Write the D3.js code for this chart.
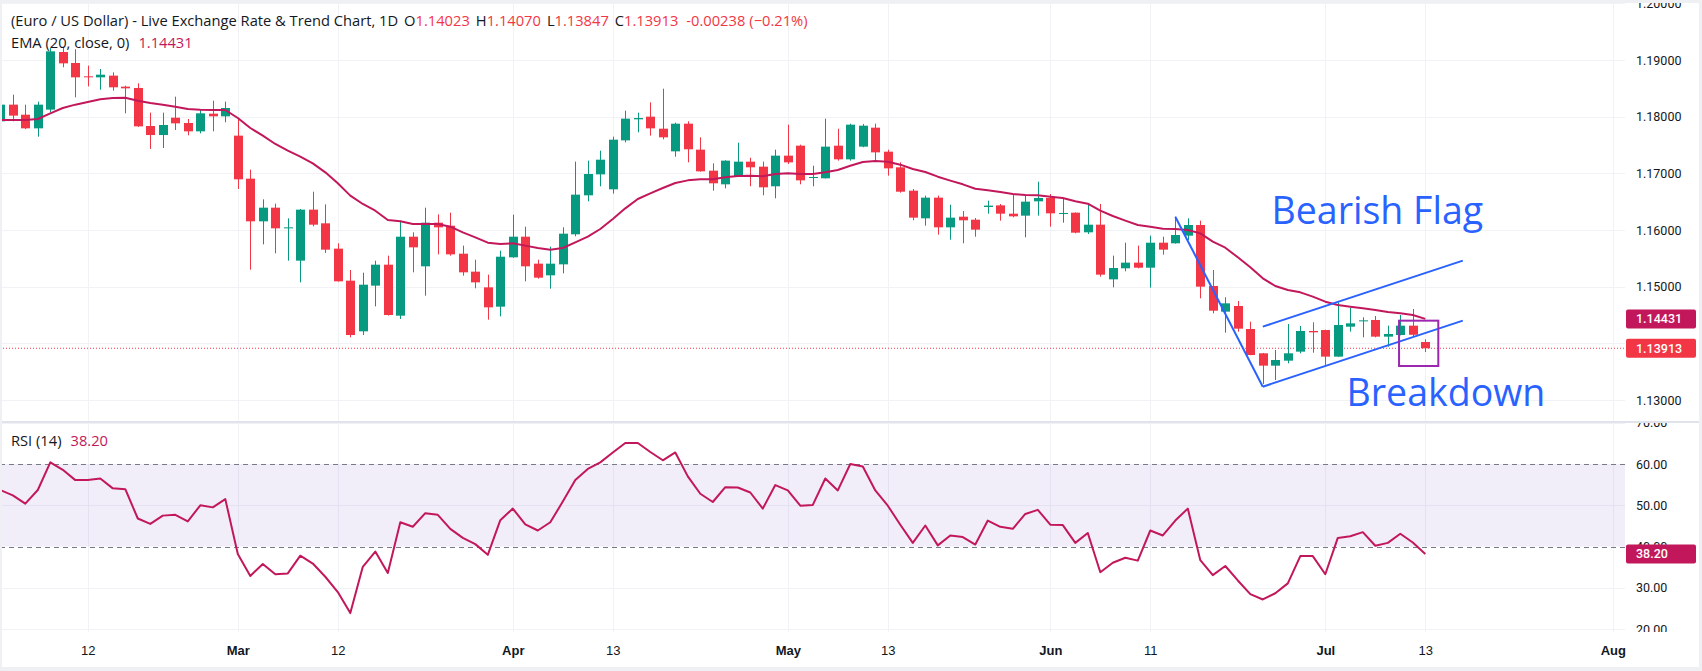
<!DOCTYPE html>
<html>
<head>
<meta charset="utf-8">
<script src="https://d3js.org/d3.v7.min.js"></script>
<style>
html, body { margin: 0; padding: 0; background: #fff; }
svg { display: block; font-family: Roboto, "Noto Sans", sans-serif; }
</style>
</head>
<body>
<svg id="chart" width="1702" height="671"></svg>
<script>
'use strict';

// trading days shown (2026, weekdays)
var days = [
  '2026-02-03','2026-02-04','2026-02-05','2026-02-06','2026-02-09','2026-02-10','2026-02-11','2026-02-12','2026-02-13',
  '2026-02-16','2026-02-17','2026-02-18','2026-02-19','2026-02-20','2026-02-23','2026-02-24','2026-02-25','2026-02-26','2026-02-27',
  '2026-03-02','2026-03-03','2026-03-04','2026-03-05','2026-03-06','2026-03-09','2026-03-10','2026-03-11','2026-03-12','2026-03-13',
  '2026-03-16','2026-03-17','2026-03-18','2026-03-19','2026-03-20','2026-03-23','2026-03-24','2026-03-25','2026-03-26','2026-03-27',
  '2026-03-30','2026-03-31','2026-04-01','2026-04-02','2026-04-03','2026-04-06','2026-04-07','2026-04-08','2026-04-09','2026-04-10',
  '2026-04-13','2026-04-14','2026-04-15','2026-04-16','2026-04-17','2026-04-20','2026-04-21','2026-04-22','2026-04-23','2026-04-24',
  '2026-04-27','2026-04-28','2026-04-29','2026-04-30','2026-05-01','2026-05-04','2026-05-05','2026-05-06','2026-05-07','2026-05-08',
  '2026-05-11','2026-05-12','2026-05-13','2026-05-14','2026-05-15','2026-05-18','2026-05-19','2026-05-20','2026-05-21','2026-05-22',
  '2026-05-25','2026-05-26','2026-05-27','2026-05-28','2026-05-29','2026-06-01','2026-06-02','2026-06-03','2026-06-04','2026-06-05',
  '2026-06-08','2026-06-09','2026-06-10','2026-06-11','2026-06-12','2026-06-15','2026-06-16','2026-06-17','2026-06-18','2026-06-19',
  '2026-06-22','2026-06-23','2026-06-24','2026-06-25','2026-06-26','2026-06-29','2026-06-30','2026-07-01','2026-07-02','2026-07-03',
  '2026-07-06','2026-07-07','2026-07-08','2026-07-09','2026-07-10','2026-07-13'
];

var opens = [
  1.17918,1.18212,1.18035,1.17794,1.18124,1.19141,1.18947,1.18712,1.18694,1.18724,1.18530,1.18506,1.17835,1.17676,1.17982,1.17888,1.17741,1.18053,1.18006,
  1.17665,1.16906,1.16153,1.16394,1.16040,1.15459,1.16359,1.16118,1.15671,1.15106,1.14212,1.15018,1.15388,1.14488,1.15882,1.15359,1.16129,1.16076,1.15582,1.15265,1.14988,1.14647,
  1.15518,1.15882,1.15406,1.15200,1.15394,1.15924,1.16612,1.16982,1.16718,1.17582,1.17953,1.18000,1.17788,1.17388,1.17876,1.17418,1.17047,1.16806,1.16947,1.17206,1.17118,1.16771,
  1.17312,1.17488,1.16924,1.16912,1.17488,1.17247,1.17471,1.17806,1.17382,1.17106,1.16694,1.16206,1.16571,1.16047,1.16235,1.16182,1.16406,1.16435,1.16288,1.16253,1.16506,
  1.16565,1.16282,1.16306,1.15959,1.16094,1.15129,1.15324,1.15424,1.15335,1.15776,1.15765,1.15900,1.16088,1.15012,1.14559,1.14659,1.14253,1.13824,1.13606,1.13694,1.13853,1.14218,
  1.14235,1.13765,1.14294,1.14388,1.14412,1.14118,1.14147,1.14312,1.14023
];
var highs = [
  1.18250,1.18388,1.18212,1.18265,1.19210,1.19224,1.19190,1.18900,1.18841,1.18782,1.18547,1.18588,1.18071,1.18071,1.18353,1.17959,1.18130,1.18282,1.18265,
  1.17976,1.17065,1.16541,1.16465,1.16206,1.16370,1.16676,1.16453,1.15765,1.15294,1.15247,1.15459,1.15547,1.16165,1.15959,1.16394,1.16276,1.16306,1.15724,1.15476,1.15212,1.15635,
  1.16271,1.16059,1.15476,1.15706,1.16047,1.17206,1.17224,1.17400,1.17647,1.18106,1.18071,1.18253,1.18494,1.17894,1.17918,1.17635,1.17176,1.17230,1.17541,1.17276,1.17206,1.17418,
  1.17859,1.17506,1.17135,1.17965,1.17788,1.17876,1.17871,1.17876,1.17418,1.17194,1.16724,1.16606,1.16606,1.16447,1.16335,1.16212,1.16518,1.16459,1.16618,1.16606,1.16853,
  1.16635,1.16559,1.16310,1.16459,1.16459,1.15547,1.15776,1.15724,1.15900,1.15882,1.16235,1.16206,1.16165,1.15294,1.14812,1.14747,1.14382,1.13830,1.13882,1.14341,1.14306,1.14371,
  1.14240,1.14724,1.14630,1.14459,1.14482,1.14312,1.14500,1.14606,1.14070
];
var lows = [
  1.17850,1.17918,1.17780,1.17647,1.18076,1.18871,1.18341,1.18535,1.18476,1.18459,1.18059,1.17820,1.17430,1.17447,1.17765,1.17671,1.17706,1.17741,1.17900,
  1.16724,1.15300,1.15747,1.15588,1.15459,1.15076,1.16065,1.15594,1.15090,1.14106,1.14147,1.14653,1.14490,1.14430,1.15253,1.14841,1.15570,1.15547,1.15194,1.14971,1.14418,1.14476,
  1.15510,1.15094,1.15141,1.14965,1.15235,1.15888,1.16506,1.16771,1.16641,1.17547,1.17724,1.17665,1.17600,1.17294,1.17194,1.17030,1.16694,1.16735,1.16940,1.16771,1.16612,1.16559,
  1.17165,1.16806,1.16771,1.16910,1.17224,1.17224,1.17460,1.17235,1.16959,1.16659,1.16171,1.16076,1.15918,1.15829,1.15765,1.15882,1.16288,1.16165,1.16224,1.15871,1.16253,
  1.16059,1.16129,1.15941,1.15930,1.15176,1.14988,1.15271,1.15324,1.14982,1.15565,1.15760,1.15824,1.14794,1.14529,1.14188,1.14206,1.13790,1.13282,1.13353,1.13647,1.13824,1.13835,
  1.13618,1.13760,1.14206,1.14106,1.14106,1.13941,1.14140,1.14118,1.13847
];
var closes = [
  1.18212,1.18018,1.17794,1.18212,1.19153,1.18941,1.18694,1.18694,1.18741,1.18518,1.18500,1.17829,1.17676,1.17853,1.17882,1.17741,1.18059,1.18006,1.18153,
  1.16894,1.16153,1.16394,1.16029,1.16047,1.16359,1.16094,1.15653,1.15094,1.14147,1.15035,1.15388,1.14500,1.15882,1.15694,1.16129,1.16047,1.15570,1.15253,1.15076,1.14635,1.15529,
  1.15882,1.15359,1.15159,1.15406,1.15935,1.16624,1.16988,1.17241,1.17594,1.17965,1.17976,1.17794,1.17635,1.17876,1.17424,1.17035,1.16824,1.17224,1.17206,1.17106,1.16753,1.17312,
  1.17194,1.16876,1.16935,1.17471,1.17247,1.17859,1.17841,1.17370,1.17088,1.16676,1.16218,1.16571,1.16047,1.16218,1.16171,1.16006,1.16430,1.16288,1.16241,1.16500,1.16565,
  1.16294,1.16300,1.15953,1.16094,1.15212,1.15329,1.15424,1.15335,1.15776,1.15653,1.15912,1.16088,1.15000,1.14576,1.14706,1.14259,1.13794,1.13606,1.13706,1.13824,1.14218,1.14194,
  1.13765,1.14324,1.14353,1.14406,1.14118,1.14165,1.14312,1.14151,1.13913
];
var ema20 = [
  1.17941,1.17941,1.17940,1.17959,1.18059,1.18153,1.18212,1.18259,1.18306,1.18330,1.18335,1.18282,1.18241,1.18212,1.18176,1.18135,1.18124,1.18118,1.18118,
  1.17976,1.17800,1.17665,1.17518,1.17400,1.17294,1.17176,1.17018,1.16824,1.16606,1.16459,1.16341,1.16176,1.16153,1.16106,1.16106,1.16106,1.16059,1.15959,1.15871,1.15776,1.15753,
  1.15765,1.15724,1.15682,1.15653,1.15682,1.15782,1.15882,1.16018,1.16194,1.16382,1.16547,1.16647,1.16741,1.16829,1.16876,1.16894,1.16894,1.16929,1.16953,1.16959,1.16947,1.16988,
  1.17003,1.16988,1.16988,1.17018,1.17059,1.17135,1.17200,1.17218,1.17206,1.17153,1.17076,1.17024,1.16941,1.16871,1.16806,1.16729,1.16700,1.16671,1.16635,1.16618,1.16612,
  1.16588,1.16565,1.16506,1.16465,1.16341,1.16247,1.16165,1.16088,1.16059,1.16024,1.16018,1.16000,1.15941,1.15794,1.15688,1.15518,1.15341,1.15147,1.15012,1.14941,1.14900,1.14824,
  1.14735,1.14676,1.14647,1.14618,1.14588,1.14553,1.14529,1.14500,1.14431
];
var rsi14 = [
  53.7,52.4,50.4,53.7,60.4,58.6,56.1,56.1,56.5,54.1,53.9,46.8,45.5,47.5,47.7,46.1,50.0,49.5,51.5,
  38.2,32.9,35.8,33.3,33.5,37.8,35.9,32.7,29.0,23.9,35.1,38.8,33.6,45.9,44.8,48.1,47.7,44.3,42.1,40.6,38.0,46.4,
  49.2,45.4,43.9,45.9,50.9,56.1,58.8,60.4,62.8,65.1,65.1,62.9,60.9,62.8,57.0,52.8,50.8,54.4,54.3,53.1,49.2,54.9,
  53.6,49.9,50.1,56.5,53.6,60.0,59.4,53.6,49.9,45.3,40.9,45.1,40.3,42.7,42.3,40.5,46.3,44.8,44.3,47.9,48.9,
  45.3,45.2,40.9,43.3,33.8,36.1,37.3,36.6,43.9,42.7,46.3,49.2,36.7,33.1,35.3,31.8,28.5,27.2,28.7,31.1,37.7,37.7,
  33.3,42.1,42.5,43.5,40.2,40.9,43.1,41.0,38.2
];

// axis ticks
var priceTicks = [1.13, 1.14, 1.15, 1.16, 1.17, 1.18, 1.19, 1.20];
var rsiTicks = [20, 30, 40, 50, 60, 70];
var timeTickDays = ['2026-02-12','2026-03-02','2026-03-12','2026-04-01','2026-04-13','2026-05-01','2026-05-13','2026-06-01','2026-06-11','2026-07-01','2026-07-13','2026-08-03'];
var timeTickLabels = ['12','Mar','12','Apr','13','May','13','Jun','11','Jul','13','Aug'];

// drawings on the chart, in bar / price units
var flagLines = [
  [[94, 1.16235], [101, 1.13235]],
  [[101, 1.13235], [117, 1.14400]],
  [[101, 1.14294], [117, 1.15459]]
];
var breakBox = {x0: 111.9, x1: 115.04, p0: 1.14400, p1: 1.13600};
var notes = [
  {text: 'Bearish Flag', bar: 101.7, price: 1.16106},
  {text: 'Breakdown', bar: 107.7, price: 1.12894}
];

var W = 1702, H = 671, plotRight = 1625;
var UP = '#089981', DOWN = '#f23645', EMA = '#c2185b', BLUE = '#2962ff';
var LEGEND_FONT = '"Open Sans", sans-serif';
var LEGEND_SIZE = '14.7px';

var parse = d3.timeParse('%Y-%m-%d');
var first = parse(days[0]);
function barIndex(s) {
  return d3.timeDay.range(first, parse(s)).filter(function(t) {
    var w = t.getDay();
    return w !== 0 && w !== 6;
  }).length;
}

var x = d3.scaleLinear().domain([-0.024, 129.976]).range([0, plotRight]);
var y = d3.scaleLinear().domain([1.13, 1.19]).range([400, 60]);
var yr = d3.scaleLinear().domain([20, 60]).range([629.2, 464]);

var svg = d3.select('#chart');

//frame
svg.append('rect').attr('width', W).attr('height', H).attr('fill', '#eef0f4');
svg.append('rect').attr('x', 2).attr('y', 3).attr('width', W - 5).attr('height', H - 7).attr('fill', '#fff');

var defs = svg.append('defs');
defs.append('clipPath').attr('id', 'clipPrice').append('rect')
  .attr('x', 2).attr('y', 3).attr('width', plotRight - 2).attr('height', 418);
defs.append('clipPath').attr('id', 'clipRsi').append('rect')
  .attr('x', 2).attr('y', 423).attr('width', plotRight - 2).attr('height', 209);
defs.append('clipPath').attr('id', 'clipPriceAxis').append('rect')
  .attr('x', plotRight).attr('y', 3).attr('width', 75).attr('height', 418);
defs.append('clipPath').attr('id', 'clipRsiAxis').append('rect')
  .attr('x', plotRight).attr('y', 423).attr('width', 75).attr('height', 209);

var timeIdx = timeTickDays.map(barIndex);

// grid
var grid = svg.append('g').attr('stroke', '#f0f2f5').attr('stroke-width', 1);
grid.selectAll('line.v').data(timeIdx).enter().append('line')
  .attr('x1', function(d) { return Math.round(x(d)) + 0.5; })
  .attr('x2', function(d) { return Math.round(x(d)) + 0.5; })
  .attr('y1', 3).attr('y2', 632);
grid.append('g').attr('clip-path', 'url(#clipPrice)')
  .selectAll('line').data(priceTicks).enter().append('line')
  .attr('x1', 0).attr('x2', plotRight)
  .attr('y1', function(d) { return Math.round(y(d)) + 0.5; })
  .attr('y2', function(d) { return Math.round(y(d)) + 0.5; });
grid.append('g').attr('clip-path', 'url(#clipRsi)')
  .selectAll('line').data([20, 30, 50, 70]).enter().append('line')
  .attr('x1', 0).attr('x2', plotRight)
  .attr('y1', function(d) { return Math.round(yr(d)) + 0.5; })
  .attr('y2', function(d) { return Math.round(yr(d)) + 0.5; });

// pane separator
svg.append('rect').attr('x', 2).attr('y', 421).attr('width', W - 5).attr('height', 2).attr('fill', '#e0e3eb');

// price pane
var pp = svg.append('g').attr('clip-path', 'url(#clipPrice)');

pp.append('line')
  .attr('x1', 0).attr('x2', plotRight)
  .attr('y1', y(closes[closes.length - 1])).attr('y2', y(closes[closes.length - 1]))
  .attr('stroke', DOWN).attr('stroke-width', 1).attr('stroke-dasharray', '1,2');

var bars = days.map(function(d, i) {
  return {i: i, o: opens[i], h: highs[i], l: lows[i], c: closes[i]};
});
var candle = pp.selectAll('g.candle').data(bars).enter().append('g')
  .attr('fill', function(d) { return d.c >= d.o ? UP : DOWN; })
  .attr('stroke', function(d) { return d.c >= d.o ? UP : DOWN; });
candle.append('line')
  .attr('x1', function(d) { return Math.round(x(d.i)) + 0.5; })
  .attr('x2', function(d) { return Math.round(x(d.i)) + 0.5; })
  .attr('y1', function(d) { return y(d.h); })
  .attr('y2', function(d) { return y(d.l); })
  .attr('stroke-width', 1);
candle.append('rect')
  .attr('stroke', 'none')
  .attr('x', function(d) { return Math.round(x(d.i)) - 4; })
  .attr('width', 9)
  .attr('y', function(d) { return y(Math.max(d.o, d.c)); })
  .attr('height', function(d) { return Math.max(1, Math.abs(y(d.o) - y(d.c))); });

pp.append('path')
  .datum(ema20)
  .attr('fill', 'none').attr('stroke', EMA).attr('stroke-width', 2)
  .attr('stroke-linejoin', 'round')
  .attr('d', d3.line().x(function(d, i) { return x(i); }).y(function(d) { return y(d); }));

// drawings
pp.selectAll('line.flag').data(flagLines).enter().append('line')
  .attr('x1', function(d) { return x(d[0][0]); })
  .attr('y1', function(d) { return y(d[0][1]); })
  .attr('x2', function(d) { return x(d[1][0]); })
  .attr('y2', function(d) { return y(d[1][1]); })
  .attr('stroke', BLUE).attr('stroke-width', 2);
pp.append('rect')
  .attr('x', x(breakBox.x0)).attr('y', y(breakBox.p0))
  .attr('width', x(breakBox.x1) - x(breakBox.x0))
  .attr('height', y(breakBox.p1) - y(breakBox.p0))
  .attr('fill', 'none').attr('stroke', '#9c27b0').attr('stroke-width', 2);
pp.selectAll('text.note').data(notes).enter().append('text')
  .attr('x', function(d) { return x(d.bar); })
  .attr('y', function(d) { return y(d.price); })
  .attr('fill', BLUE)
  .style('font-family', '"Open Sans", sans-serif')
  .style('font-size', '37.5px')
  .text(function(d) { return d.text; });

// rsi pane
var rp = svg.append('g').attr('clip-path', 'url(#clipRsi)');
rp.append('rect')
  .attr('x', 0).attr('width', plotRight)
  .attr('y', yr(60)).attr('height', yr(40) - yr(60))
  .attr('fill', '#7e57c2').attr('fill-opacity', 0.1);
rp.selectAll('line.band').data([40, 60]).enter().append('line')
  .attr('x1', 0).attr('x2', plotRight)
  .attr('y1', function(d) { return Math.round(yr(d)) + 0.5; })
  .attr('y2', function(d) { return Math.round(yr(d)) + 0.5; })
  .attr('stroke', '#787b86').attr('stroke-width', 1).attr('stroke-dasharray', '5,4');
rp.append('path')
  .datum(rsi14)
  .attr('fill', 'none').attr('stroke', EMA).attr('stroke-width', 2)
  .attr('stroke-linejoin', 'round')
  .attr('d', d3.line().x(function(d, i) { return x(i); }).y(function(d) { return yr(d); }));

// price axis
var lastClose = closes[closes.length - 1];
var lastEma = ema20[ema20.length - 1];
var lastRsi = rsi14[rsi14.length - 1];
var boxes = [
  {v: lastEma, yy: y(lastEma), fill: EMA, label: d3.format('.5f')(lastEma), pane: 'clipPriceAxis'},
  {v: lastClose, yy: y(lastClose), fill: DOWN, label: d3.format('.5f')(lastClose), pane: 'clipPriceAxis'},
  {v: lastRsi, yy: yr(lastRsi), fill: EMA, label: d3.format('.2f')(lastRsi), pane: 'clipRsiAxis'}
];

var priceLabels = priceTicks.filter(function(p) {
  return !boxes.slice(0, 2).some(function(b) { return Math.abs(y(p) - b.yy) < 12; });
});
var pAxis = svg.append('g')
  .attr('clip-path', 'url(#clipPriceAxis)')
  .append('g')
  .attr('transform', 'translate(' + plotRight + ',0)')
  .call(d3.axisRight(y).tickValues(priceLabels).tickFormat(d3.format('.5f')).tickSize(0).tickPadding(11));
var rAxis = svg.append('g')
  .attr('clip-path', 'url(#clipRsiAxis)')
  .append('g')
  .attr('transform', 'translate(' + plotRight + ',0)')
  .call(d3.axisRight(yr).tickValues(rsiTicks).tickFormat(d3.format('.2f')).tickSize(0).tickPadding(11));
[pAxis, rAxis].forEach(function(a) {
  a.select('.domain').remove();
  a.selectAll('text').attr('fill', '#131722').style('font-size', '12.5px').style('font-family', 'Roboto, sans-serif');
});

var box = svg.selectAll('g.box').data(boxes).enter().append('g')
  .attr('clip-path', function(d) { return 'url(#' + d.pane + ')'; });
box.append('rect')
  .attr('x', plotRight + 1).attr('width', 70)
  .attr('y', function(d) { return d.yy - 9.5; }).attr('height', 19)
  .attr('rx', 2).attr('fill', function(d) { return d.fill; });
box.append('text')
  .attr('x', plotRight + 11).attr('y', function(d) { return d.yy; })
  .attr('dy', '0.35em')
  .attr('fill', '#fff')
  .style('font-size', '12.5px').style('font-weight', 500)
  .text(function(d) { return d.label; });

// time axis
var tAxis = svg.append('g')
  .attr('transform', 'translate(0,632)')
  .call(d3.axisBottom(x).tickValues(timeIdx)
    .tickFormat(function(d, i) { return timeTickLabels[i]; })
    .tickSize(0).tickPadding(14));
tAxis.select('.domain').remove();
tAxis.selectAll('text')
  .attr('fill', '#131722')
  .style('font-size', '13px')
  .style('font-weight', function(d, i) { return isNaN(+timeTickLabels[i]) ? 700 : 400; });

// legends
var legend = svg.append('text').attr('x', 11).attr('y', 26)
  .attr('fill', '#131722').style('font-size', LEGEND_SIZE).style('font-family', LEGEND_FONT);
var ohlc = [['O', opens], ['H', highs], ['L', lows], ['C', closes]];
legend.append('tspan').text('(Euro / US Dollar) - Live Exchange Rate & Trend Chart, 1D');
ohlc.forEach(function(k) {
  legend.append('tspan').attr('dx', 6).text(k[0]);
  legend.append('tspan').attr('fill', DOWN).text(d3.format('.5f')(k[1][k[1].length - 1]));
});
var chg = lastClose - closes[closes.length - 2];
legend.append('tspan').attr('dx', 8).attr('fill', DOWN).text(d3.format('.5f')(chg).replace('−', '-'));
legend.append('tspan').attr('dx', 4).attr('fill', DOWN)
  .text('(' + d3.format('.2f')(chg / closes[closes.length - 2] * 100) + '%)');

var emaLegend = svg.append('text').attr('x', 11).attr('y', 48)
  .attr('fill', '#131722').style('font-size', LEGEND_SIZE).style('font-family', LEGEND_FONT);
emaLegend.append('tspan').text('EMA (20, close, 0)');
emaLegend.append('tspan').attr('dx', 9).attr('fill', EMA).text(d3.format('.5f')(lastEma));

var rsiLegend = svg.append('text').attr('x', 11).attr('y', 446)
  .attr('fill', '#131722').style('font-size', LEGEND_SIZE).style('font-family', LEGEND_FONT);
rsiLegend.append('tspan').text('RSI (14)');
rsiLegend.append('tspan').attr('dx', 9).attr('fill', EMA).text(d3.format('.2f')(lastRsi));
</script>
</body>
</html>
